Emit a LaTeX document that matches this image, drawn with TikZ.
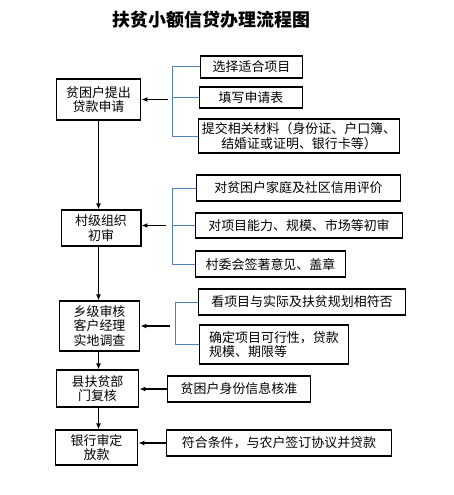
\documentclass[tikz,border=0pt]{standalone}
\usepackage{fontspec}
\newfontfamily\cjk{Noto Sans CJK SC}
\usepackage{tikz}
\usetikzlibrary{arrows.meta}
\definecolor{bracketblue}{RGB}{79,129,189}
\tikzset{every node/.append style={align=center}}
\tikzset{
  stagebox/.style={draw, line width=1.3pt, inner sep=0pt,
    font=\cjk\fontsize{13}{14.5}\selectfont},
  notebox/.style={draw, line width=1.3pt, inner sep=0pt,
    font=\cjk\fontsize{13}{14.5}\selectfont},
  bracketline/.style={bracketblue, line width=1pt},
  flowarrow/.style={-{Latex[length=6pt,width=5pt]}, line width=1.2pt}
}

\begin{document}
\begin{tikzpicture}[x=1bp, y=-1bp]

  \useasboundingbox (0,0) rectangle (454,495);

  % === TITLE ===
  \node[font=\cjk\bfseries\fontsize{18}{20}\selectfont] (title) at (211.5,20)
    {扶贫小额信贷办理流程图};

  % === MAIN STAGES ===
  \node[stagebox, minimum width=85, minimum height=41] (apply) at (98.5,99.5)
    {贫困户提出\\贷款申请};
  \node[stagebox, minimum width=80, minimum height=36] (village) at (101,228)
    {村级组织\\初审};
  \node[stagebox, minimum width=81, minimum height=50] (town) at (99.5,326)
    {乡级审核\\客户经理\\实地调查};
  \node[stagebox, minimum width=83, minimum height=37] (county) at (97.5,388.5)
    {县扶贫部\\门复核};
  \node[stagebox, minimum width=83, minimum height=35] (bank) at (96.5,447.5)
    {银行审定\\放款};

  % Flow down
  \draw[flowarrow] (apply.south) -- (apply.south |- village.north);
  \draw[flowarrow] (village.south -| apply.south) -- (apply.south |- town.north);
  \draw[flowarrow] (town.south -| apply.south) -- (apply.south |- county.north);
  \draw[flowarrow] (county.south -| apply.south) -- (apply.south |- bank.north);

  % === STEP 1 NOTES ===
  \node[notebox, minimum width=103, minimum height=22] (choose) at (251.5,67)
    {选择适合项目};
  \node[notebox, minimum width=104, minimum height=21] (form) at (251,97.5)
    {填写申请表};
  \node[notebox, minimum width=202, minimum height=34] (papers) at (299,136)
    {提交相关材料（身份证、户口簿、\\结婚证或证明、银行卡等）};
  \coordinate (b1) at (172,0);
  \draw[bracketline] (b1 |- choose.west) -- (b1 |- papers.west);
  \foreach \n in {choose,form,papers}
    \draw[bracketline] (b1 |- \n.west) -- (\n.west);
  \draw[flowarrow] ([xshift=-4]b1 |- apply.east) -- (apply.east);

  % === STEP 2 NOTES ===
  \node[notebox, minimum width=205, minimum height=26] (credit) at (298.5,188)
    {对贫困户家庭及社区信用评价};
  \node[notebox, minimum width=208, minimum height=25] (ability) at (299,225.5)
    {对项目能力、规模、市场等初审};
  \node[notebox, minimum width=151, minimum height=26] (seal) at (270.5,264)
    {村委会签著意见、盖章};
  \coordinate (b2) at (172,0);
  \draw[bracketline] (b2 |- credit.west) -- (b2 |- seal.west);
  \foreach \n in {credit,ability,seal}
    \draw[bracketline] (b2 |- \n.west) -- (\n.west);
  \draw[flowarrow] ([xshift=-6]b2 |- ability.west) -- (village.east |- ability.west);

  % === STEP 3 NOTES ===
  \node[notebox, minimum width=208, minimum height=26] (plan) at (302,302)
    {看项目与实际及扶贫规划相符否};
  \node[notebox, minimum width=150, minimum height=39, align=left] (scale) at (274,344.5)
    {确定项目可行性，贷款\\规模、期限等};
  \coordinate (b3) at (175,0);
  \draw[bracketline] (b3 |- plan.west) -- (b3 |- scale.west);
  \foreach \n in {plan,scale}
    \draw[bracketline] (b3 |- \n.west) -- (\n.west);
  \draw[flowarrow] ([xshift=-5]b3 |- town.east) -- (town.east);

  % === STEP 4 AND 5 NOTES ===
  \node[notebox, minimum width=144, minimum height=26] (identity) at (239,389)
    {贫困户身份信息核准};
  \draw[flowarrow] (identity.west) -- (county.east |- identity.west);

  \node[notebox, minimum width=226, minimum height=26] (loan) at (279,443)
    {符合条件，与农户签订协议并贷款};
  \draw[flowarrow] (loan.west) -- (bank.east |- loan.west);

\end{tikzpicture}
\end{document}
